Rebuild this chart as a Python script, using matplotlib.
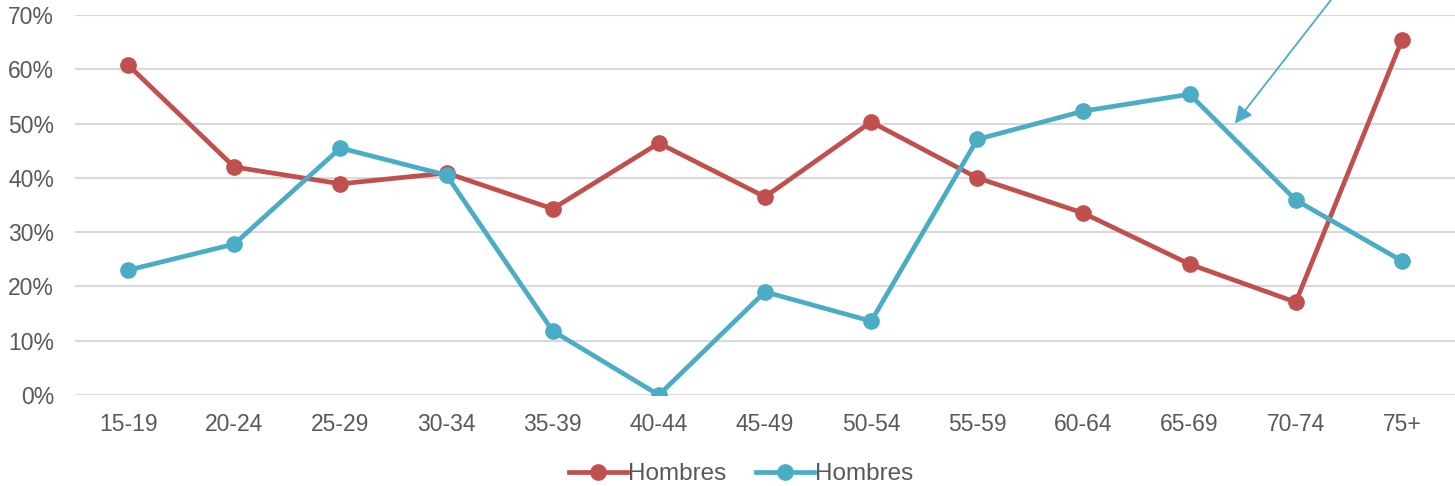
import matplotlib
matplotlib.use("Agg")
import matplotlib.pyplot as plt
from matplotlib.ticker import FuncFormatter

categories = ["15-19", "20-24", "25-29", "30-34", "35-39", "40-44", "45-49",
              "50-54", "55-59", "60-64", "65-69", "70-74", "75+"]
hombres_rojo = [60.8, 42.0, 38.9, 40.9, 34.3, 46.4, 36.5, 50.3, 40.0, 33.5, 24.1, 17.1, 65.4]
hombres_azul = [23.0, 27.8, 45.5, 40.5, 11.8, 0.0, 19.0, 13.6, 47.1, 52.3, 55.4, 35.9, 24.7]
series_labels = ["Hombres", "Hombres"]
yticks = [0, 10, 20, 30, 40, 50, 60, 70]

RED = "#C0504D"
BLUE = "#4BACC6"
GRAY = "#595959"

plt.rcParams['font.family'] = ['Liberation Sans', 'DejaVu Sans']

fig = plt.figure(figsize=(14.55, 4.86), dpi=100)
ax = fig.add_axes([75/1455, 1 - 395/486, 1 - 75/1455, (395 - 15)/486])

x = list(range(len(categories)))
ax.plot(x, hombres_rojo, color=RED, lw=3.4, marker='o', ms=11, label=series_labels[0], zorder=3)
ax.plot(x, hombres_azul, color=BLUE, lw=3.4, marker='o', ms=11, label=series_labels[1], zorder=3)

ax.set_xlim(-0.5, len(categories) - 0.5)
ax.set_ylim(0, 70)
ax.set_yticks(yticks)
ax.yaxis.set_major_formatter(FuncFormatter(lambda v, p: f"{v:.0f}%"))
ax.set_xticks(x)
ax.set_xticklabels(categories)
ax.grid(axis='y', color='#D9D9D9', lw=1.5, zorder=0)
ax.set_axisbelow(True)
for s in ax.spines.values():
    s.set_visible(False)
ax.tick_params(axis='both', length=0, labelsize=16.5, labelcolor=GRAY)
ax.tick_params(axis='x', pad=13)
ax.tick_params(axis='y', pad=15)

ax.annotate("", xy=(10.41, 49.6), xytext=(11.40, 74.5),
            arrowprops=dict(arrowstyle='-|>', color=BLUE, lw=1.3, mutation_scale=26),
            annotation_clip=False)

leg = ax.legend(loc='center', bbox_to_anchor=(0.4826, -0.208), ncol=2, frameon=False,
                fontsize=17.5, handlelength=2.4, handletextpad=0.05, columnspacing=1.2)
for t in leg.get_texts():
    t.set_color(GRAY)

fig.savefig("out.png", dpi=100)
